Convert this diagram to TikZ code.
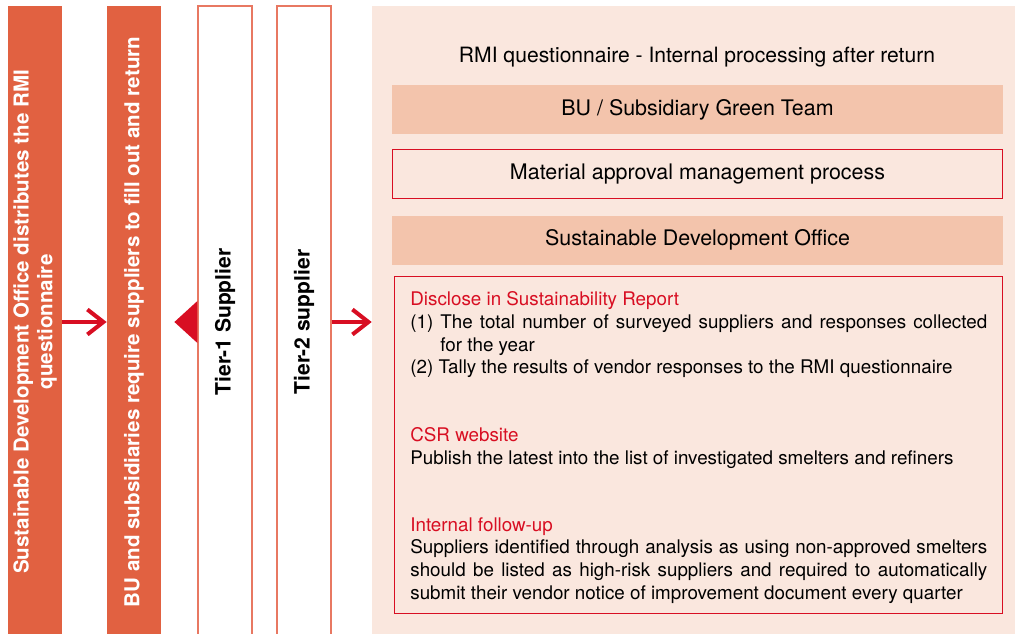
\documentclass[tikz,border=0pt]{standalone}
\usepackage{fontspec}
\setmainfont{TeX Gyre Heros}
\usetikzlibrary{arrows.meta,positioning,calc}
\definecolor{barorange}{RGB}{225,97,65}
\definecolor{tierline}{RGB}{232,120,98}
\definecolor{flowred}{RGB}{216,14,34}
\definecolor{panelpeach}{RGB}{250,231,222}
\definecolor{bandpeach}{RGB}{243,196,172}

\begin{document}
\begin{tikzpicture}[
    x=0.02cm, y=-0.02cm,
    font=\fontsize{12}{14}\selectfont,
    bar/.style={rectangle, inner sep=0pt, minimum width=1.08cm, minimum height=12.64cm},
    orangebar/.style={bar, fill=barorange},
    tierbar/.style={bar, draw=tierline, line width=0.7pt, fill=white},
    bartext/.style={rotate=90, align=center, font=\fontsize{11.7}{13.5}\selectfont\bfseries},
    band/.style={rectangle, inner sep=0pt, minimum width=12.22cm, minimum height=0.98cm, font=\fontsize{12.2}{14}\selectfont},
    flow/.style={draw=flowred, line width=2.3pt, -{Straight Barb[length=3.2mm,width=5mm]}},
    body/.style={anchor=north west, inner sep=0pt, text width=11.54cm, align=justify, font=\fontsize{10.7}{13}\selectfont}
]
    \useasboundingbox (0,0) rectangle (1015,634);

    % Columns
    \node[orangebar] (distribute) at (35,322) {};
    \node[bartext, text=white] at (distribute) {Sustainable Development Office distributes the RMI\\questionnaire};

    \node[orangebar] (require) at (134,322) {};
    \node[bartext, text=white] at (require) {BU and subsidiaries require suppliers to fill out and return};

    \node[tierbar] (tier1) at (225,322) {};
    \node[bartext, font=\fontsize{12}{14}\selectfont\bfseries] at (tier1) {Tier-1 Supplier};

    \node[tierbar] (tier2) at (304,322) {};
    \node[bartext, font=\fontsize{12}{14}\selectfont\bfseries] at (tier2) {Tier-2 supplier};

    % Internal processing panel
    \node[rectangle, fill=panelpeach, inner sep=0pt, minimum width=13cm, minimum height=12.64cm] (panel) at (697,322) {};
    \node (title) at (697,57) {RMI questionnaire - Internal processing after return};

    \node[band, fill=bandpeach] (green) at (697.5,109.5) {BU / Subsidiary Green Team};
    \node[band, draw=flowred, line width=0.6pt, below=0.3cm of green] (material) {Material approval management process};
    \node[band, fill=bandpeach, below=0.32cm of material] (sdo) {Sustainable Development Office};

    \node[rectangle, draw=flowred, line width=0.6pt, inner sep=0pt, minimum width=12.18cm, minimum height=6.76cm] (report) at (698.5,445) {};

    \node[body] (disclose) at (410,291) {\textcolor{flowred}{Disclose in Sustainability Report}\par
        \hangindent=1.6em\hangafter=1 (1) The total number of surveyed suppliers and responses collected\linebreak for the year\par
        (2) Tally the results of vendor responses to the RMI questionnaire};
    \node[body] (csr) at (410,427) {\textcolor{flowred}{CSR website}\par
        Publish the latest into the list of investigated smelters and refiners};
    \node[body] (followup) at (410,517) {\textcolor{flowred}{Internal follow-up}\par
        Suppliers identified through analysis as using non-approved smelters\linebreak should be listed as high-risk suppliers and required to automatically\linebreak submit their vendor notice of improvement document every quarter};

    % Flow
    \draw[flow] (distribute.east) -- (require.west);
    \fill[flowred] (tier1.west) ++(0,-21) -- ++(-23,21) -- ++(23,21) -- cycle;
    \draw[flow] (tier2.east) -- (panel.west);

\end{tikzpicture}
\end{document}
